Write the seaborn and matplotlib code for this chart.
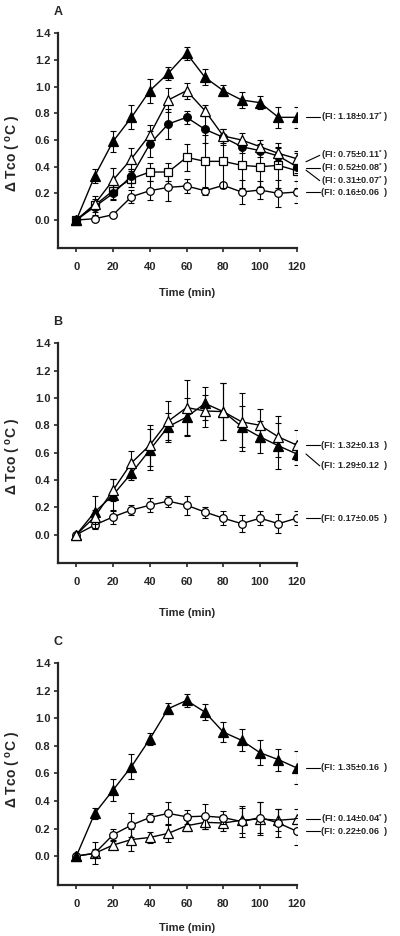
import numpy as np
import matplotlib
matplotlib.use("Agg")
import matplotlib.pyplot as plt
import seaborn as sns

time = [0, 10, 20, 30, 40, 50, 60, 70, 80, 90, 100, 110, 120]

# panel A
a_tri_f = [0.00, 0.33, 0.59, 0.77, 0.97, 1.10, 1.25, 1.07, 0.97, 0.90, 0.88, 0.77, 0.77]
a_tri_f_err = [0.00, 0.05, 0.08, 0.09, 0.09, 0.05, 0.05, 0.06, 0.04, 0.06, 0.05, 0.08, 0.08]
a_tri_o = [0.00, 0.12, 0.30, 0.46, 0.64, 0.90, 0.97, 0.82, 0.63, 0.60, 0.55, 0.50, 0.46]
a_tri_o_err = [0.00, 0.04, 0.09, 0.08, 0.07, 0.09, 0.06, 0.04, 0.05, 0.05, 0.05, 0.05, 0.06]
a_circ_f = [0.00, 0.10, 0.20, 0.33, 0.57, 0.72, 0.77, 0.68, 0.62, 0.55, 0.52, 0.48, 0.40]
a_circ_f_err = [0.00, 0.04, 0.05, 0.05, 0.10, 0.11, 0.05, 0.10, 0.06, 0.05, 0.05, 0.06, 0.05]
a_sq = [0.00, 0.11, 0.22, 0.31, 0.36, 0.36, 0.47, 0.44, 0.44, 0.41, 0.40, 0.41, 0.37]
a_sq_err = [0.00, 0.07, 0.06, 0.06, 0.07, 0.07, 0.10, 0.20, 0.20, 0.17, 0.15, 0.17, 0.13]
a_circ_o = [0.00, 0.01, 0.04, 0.175, 0.22, 0.245, 0.255, 0.22, 0.26, 0.21, 0.225, 0.20, 0.21]
a_circ_o_err = [0.00, 0.00, 0.00, 0.05, 0.07, 0.10, 0.05, 0.03, 0.02, 0.09, 0.07, 0.10, 0.08]

# panel B
b_tri_o = [0.00, 0.13, 0.325, 0.525, 0.655, 0.83, 0.93, 0.905, 0.90, 0.825, 0.80, 0.715, 0.655]
b_tri_o_err = [0.00, 0.05, 0.08, 0.09, 0.15, 0.15, 0.20, 0.12, 0.21, 0.21, 0.12, 0.15, 0.11]
b_tri_f = [0.00, 0.165, 0.29, 0.45, 0.62, 0.79, 0.86, 0.96, 0.90, 0.79, 0.715, 0.65, 0.59]
b_tri_f_err = [0.00, 0.12, 0.12, 0.05, 0.15, 0.10, 0.14, 0.12, 0.21, 0.15, 0.12, 0.17, 0.08]
b_circ_o = [0.00, 0.07, 0.13, 0.18, 0.215, 0.245, 0.215, 0.165, 0.12, 0.08, 0.12, 0.08, 0.12]
b_circ_o_err = [0.00, 0.03, 0.05, 0.04, 0.05, 0.04, 0.07, 0.04, 0.05, 0.06, 0.05, 0.07, 0.05]

# panel C
c_tri_f = [0.00, 0.31, 0.48, 0.65, 0.85, 1.07, 1.13, 1.045, 0.90, 0.84, 0.75, 0.70, 0.64]
c_tri_f_err = [0.00, 0.04, 0.08, 0.09, 0.045, 0.04, 0.05, 0.06, 0.07, 0.08, 0.09, 0.08, 0.12]
c_circ_o = [0.00, 0.02, 0.155, 0.225, 0.28, 0.31, 0.285, 0.29, 0.28, 0.25, 0.28, 0.24, 0.18]
c_circ_o_err = [0.00, 0.03, 0.04, 0.09, 0.03, 0.08, 0.05, 0.09, 0.05, 0.11, 0.11, 0.10, 0.10]
c_tri_o = [0.00, 0.02, 0.08, 0.12, 0.135, 0.165, 0.22, 0.245, 0.24, 0.26, 0.27, 0.26, 0.27]
c_tri_o_err = [0.00, 0.08, 0.03, 0.08, 0.04, 0.06, 0.04, 0.05, 0.06, 0.09, 0.12, 0.08, 0.07]

# right-hand FI labels: text, leader start y, leader end y
a_labels = ["(FI: 1.18\u00b10.17$^{*}$ )", "(FI: 0.75\u00b10.11$^{*}$ )", "(FI: 0.52\u00b10.08$^{*}$ )",
            "(FI: 0.31\u00b10.07$^{*}$ )", "(FI: 0.16\u00b10.06  )"]
a_lab_from = [0.77, 0.437, 0.39, 0.374, 0.21]
a_lab_to = [0.77, 0.485, 0.39, 0.295, 0.21]
b_labels = ["(FI: 1.32\u00b10.13  )", "(FI: 1.29\u00b10.12  )", "(FI: 0.17\u00b10.05  )"]
b_lab_from = [0.655, 0.59, 0.12]
b_lab_to = [0.655, 0.503, 0.12]
c_labels = ["(FI: 1.35\u00b10.16  )", "(FI: 0.14\u00b10.04$^{*}$ )", "(FI: 0.22\u00b10.06  )"]
c_lab_from = [0.64, 0.27, 0.18]
c_lab_to = [0.64, 0.27, 0.18]

sns.set_style("ticks")
plt.rcParams['font.family'] = ['Liberation Sans', 'DejaVu Sans']
plt.rcParams['font.weight'] = 'bold'
plt.rcParams['mathtext.fontset'] = 'custom'
plt.rcParams['mathtext.rm'] = 'Liberation Sans:bold'
plt.rcParams['mathtext.it'] = 'Liberation Sans:bold'
plt.rcParams['mathtext.bf'] = 'Liberation Sans:bold'
plt.rcParams['mathtext.default'] = 'bf'

fig = plt.figure(figsize=(4, 9.36), dpi=100)

STYLES = {
    'tri_f': dict(marker='^', markersize=6.5, markerfacecolor='black'),
    'tri_o': dict(marker='^', markersize=6.5, markerfacecolor='white'),
    'circ_f': dict(marker='o', markersize=5.5, markerfacecolor='black'),
    'circ_o': dict(marker='o', markersize=5.5, markerfacecolor='white'),
    'sq': dict(marker='s', markersize=5.2, markerfacecolor='white'),
}


def draw_series(ax, y, err, kind, z):
    t = np.array(time)
    y = np.array(y)
    err = np.array(err)
    m = err > 0
    ax.errorbar(t[m], y[m], yerr=err[m], fmt='none', ecolor='black',
                elinewidth=0.8, capsize=2, capthick=0.8, zorder=z)
    sns.lineplot(x=time, y=y, ax=ax, color='black', linewidth=1.0,
                 markeredgecolor='black', markeredgewidth=0.9,
                 zorder=z + 0.5, **STYLES[kind])


def setup(ax, letter, fig_y, ylab_y, xlab_y, labels, lab_from, lab_to):
    ax.set_xlim(-10, 120)
    ax.set_ylim(-0.21, 1.4)
    ax.set_xticks(range(0, 121, 20))
    ax.set_yticks(np.arange(0, 1.41, 0.2))
    ax.set_yticklabels(["%.1f" % v for v in np.arange(0, 1.41, 0.2)])
    sns.despine(ax=ax)
    for s in ['left', 'bottom']:
        ax.spines[s].set_linewidth(1.6)
    ax.tick_params(axis='y', length=3, width=1.2, pad=2.5, labelsize=8)
    ax.tick_params(axis='x', length=3, width=1.2, pad=7, labelsize=8)
    for lab in ax.get_xticklabels() + ax.get_yticklabels():
        lab.set_fontweight('bold')
    ax.set_ylabel("\u0394 Tco ( $^{o}$C )", fontsize=10, fontweight='bold')
    ax.yaxis.set_label_coords(-0.145, ylab_y)
    ax.set_xlabel("Time (min)", fontsize=8, fontweight='bold')
    ax.xaxis.set_label_coords(0.54, xlab_y)
    fig.text(0.145, fig_y, letter, fontsize=9, fontweight='bold', ha='center', va='center')
    for txt, y0, y1 in zip(labels, lab_from, lab_to):
        ax.plot([125, 132.5], [y0, y1], color='black', linewidth=0.8, clip_on=False)
        ax.text(133.2, y1, txt, fontsize=6.6, fontweight='bold', ha='left', va='center',
                clip_on=False)


axA = fig.add_axes([0.145, 0.735, 0.597, 0.2294])
draw_series(axA, a_circ_o, a_circ_o_err, 'circ_o', 2)
draw_series(axA, a_sq, a_sq_err, 'sq', 3)
draw_series(axA, a_circ_f, a_circ_f_err, 'circ_f', 4)
draw_series(axA, a_tri_o, a_tri_o_err, 'tri_o', 5)
draw_series(axA, a_tri_f, a_tri_f_err, 'tri_f', 6)
setup(axA, "A", 0.987, 0.44, -0.186, a_labels, a_lab_from, a_lab_to)

axB = fig.add_axes([0.145, 0.3982, 0.597, 0.235])
draw_series(axB, b_circ_o, b_circ_o_err, 'circ_o', 2)
draw_series(axB, b_tri_f, b_tri_f_err, 'tri_f', 3)
draw_series(axB, b_tri_o, b_tri_o_err, 'tri_o', 4)
setup(axB, "B", 0.656, 0.485, -0.203, b_labels, b_lab_from, b_lab_to)

axC = fig.add_axes([0.145, 0.0545, 0.597, 0.2369])
draw_series(axC, c_tri_o, c_tri_o_err, 'tri_o', 2)
draw_series(axC, c_circ_o, c_circ_o_err, 'circ_o', 3)
draw_series(axC, c_tri_f, c_tri_f_err, 'tri_f', 4)
setup(axC, "C", 0.3144, 0.52, -0.171, c_labels, c_lab_from, c_lab_to)

fig.savefig("out.png", dpi=100)
